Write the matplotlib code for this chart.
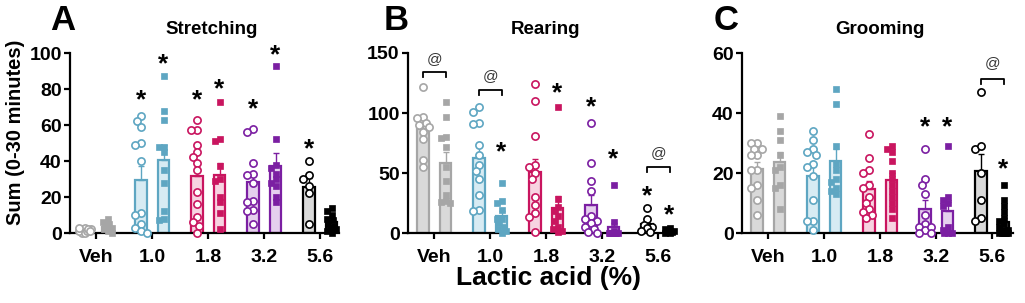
import numpy as np
import matplotlib
matplotlib.use('Agg')
import matplotlib.pyplot as plt

plt.rcParams['font.family'] = ['Liberation Sans', 'DejaVu Sans']
plt.rcParams['font.weight'] = 'bold'

groups = ['Veh', '1.0', '1.8', '3.2', '5.6']

# edge / fill colours per dose (circles bar, squares bar)
edge_c = ['#a6a6a6', '#5ea6c2', '#c9155f', '#7b1fa2', '#000000']
fill_c = ['#d9d9d9', '#d7ebf3', '#f7d3e1', '#e5d0ee', '#d9d9d9']
fill_s = ['#d9d9d9', '#d7ebf3', '#f7d3e1', '#e5d0ee', '#ffffff']

# ---- Stretching (A) ----
stretch_circ = [
    [0, 1, 2, 2, 3, 1, 0, 2, 3, 1, 2, 1],
    [65, 62, 59, 50, 49, 40, 11, 10, 5, 3, 1, 0],
    [63, 57, 57, 49, 45, 42, 39, 35, 23, 16, 9, 6, 4, 0],
    [58, 56, 39, 33, 32, 28, 18, 17, 13, 12, 5],
    [40, 32, 30, 26, 22, 5],
]
stretch_sq = [
    [0, 2, 3, 5, 8, 4, 2, 6, 3, 1],
    [87, 68, 63, 48, 48, 45, 35, 28, 12, 8, 7],
    [73, 52, 51, 37, 30, 29, 20, 17, 11, 2],
    [93, 52, 38, 36, 33, 30, 28, 26, 17, 20],
    [14, 12, 10, 8, 7, 5, 4, 3, 2, 1, 0],
]
# ---- Rearing (B) ----
rear_circ = [
    [122, 97, 96, 92, 90, 88, 84, 78, 61, 55],
    [105, 101, 92, 91, 73, 65, 57, 52, 32, 19, 18, 45],
    [124, 110, 81, 57, 55, 50, 45, 30, 23, 17, 13, 1],
    [92, 58, 43, 35, 14, 12, 10, 8, 5, 3, 1, 0],
    [21, 12, 7, 5, 4, 2, 1],
]
rear_sq = [
    [109, 97, 80, 79, 72, 55, 43, 32, 26, 25, 27],
    [42, 27, 25, 19, 12, 8, 5, 3, 2, 0, 12],
    [105, 28, 22, 18, 14, 10, 5, 3, 2, 1],
    [40, 9, 2, 0, 0, 0, 0, 0, 0, 0, 0],
    [4, 3, 2, 2, 1, 1, 0, 0],
]
# ---- Grooming (C) ----
groom_circ = [
    [30, 30, 28, 28, 26, 26, 21, 21, 16, 15, 11, 6],
    [34, 31, 28, 27, 26, 23, 22, 19, 11, 4, 4, 1],
    [33, 25, 21, 20, 16, 15, 12, 10, 8, 7, 6, 5],
    [28, 18, 16, 13, 6, 3, 2, 1, 0, 2, 0],
    [47, 28, 29, 20, 11, 5, 4],
]
groom_sq = [
    [39, 34, 31, 26, 22, 21, 16, 8, 15],
    [48, 43, 29, 23, 21, 18, 17, 15, 13, 14],
    [29, 28, 27, 24, 20, 18, 16, 14, 12, 10, 8, 5],
    [29, 12, 11, 10, 9, 2, 1, 0, 0, 0],
    [16, 11, 9, 7, 5, 4, 3, 2, 1, 1, 0, 0, 0, 0, 0, 0],
]

# significance marks: (group, side -1 circles / +1 squares, y)
stretch_stars = [(1, -1, 76), (1, 1, 96), (2, -1, 76), (2, 1, 82),
                 (3, -1, 71), (3, 1, 101), (4, -1, 49)]
rear_stars = [(1, 1, 71), (2, 1, 120), (3, -1, 108), (3, 1, 65),
              (4, -1, 34), (4, 1, 18)]
groom_stars = [(3, -1, 36.5), (3, 1, 36.5), (4, 1, 22.5)]
# '@' brackets: (group, bracket y, text y)
rear_at = [(0, 134, 145), (1, 119, 131), (4, 55, 67)]
groom_at = [(4, 51.5, 56.5)]

panels = [
    dict(circ=stretch_circ, sq=stretch_sq, ymax=100, yt=[0, 20, 40, 60, 80, 100],
         stars=stretch_stars, ats=[], xr=4.34, left=70, title='Stretching',
         tx=212, letter='A', lx=50),
    dict(circ=rear_circ, sq=rear_sq, ymax=150, yt=[0, 50, 100, 150],
         stars=rear_stars, ats=rear_at, xr=4.30, left=408, title='Rearing',
         tx=546, letter='B', lx=384),
    dict(circ=groom_circ, sq=groom_sq, ymax=60, yt=[0, 20, 40, 60],
         stars=groom_stars, ats=groom_at, xr=4.375, left=742, title='Grooming',
         tx=880, letter='C', lx=714),
]

W, H = 1025, 303
fig = plt.figure(figsize=(W / 100, H / 100), dpi=100)

ax_bot, ax_top = 233, 53
pxx = 56.0  # pixels per group unit
off = 0.2
bw = 0.21


def swarm(vals, ppy, d, wmax):
    # simple beeswarm kept inside +-wmax pixels
    vals = np.asarray(vals, float)
    order = np.argsort(-vals)
    placed = []
    xs = np.zeros(len(vals))
    cands = sorted(np.linspace(-wmax, wmax, 9), key=abs)
    for i in order:
        y = vals[i] * ppy
        best, bestd = 0.0, -1
        for x in cands:
            md = min([np.hypot(x - px, y - py) for px, py in placed] + [1e9])
            if md >= d * 0.95:
                best = x
                break
            if md > bestd + 0.5:
                best, bestd = x, md
        placed.append((best, y))
        xs[i] = best / pxx
    return xs


for p in panels:
    xl = -0.47
    width_px = (p['xr'] - xl) * pxx
    ax = fig.add_axes([p['left'] / W, 1 - ax_bot / H, width_px / W,
                       (ax_bot - ax_top) / H])
    ppy = (ax_bot - ax_top) / p['ymax']
    for g in range(5):
        for side, data, mk in [(-1, p['circ'][g], 'o'), (1, p['sq'][g], 's')]:
            v = np.array(data, float)
            m = v.mean()
            sem = v.std(ddof=1) / np.sqrt(len(v))
            x0 = g + side * off
            fc = fill_c[g] if side < 0 else fill_s[g]
            ax.bar(x0, m, width=bw, color=fc, edgecolor=edge_c[g],
                   linewidth=1.6, zorder=1)
            ax.errorbar(x0, m, yerr=[[0], [sem]], color=edge_c[g], lw=1.0,
                        capsize=2.5, capthick=1.0, zorder=2)
            if mk == 'o':
                xs = swarm(v, ppy, 7.0, 6.0)
                ax.plot(x0 + xs, v, 'o', ms=5.2, mfc='white', mec=edge_c[g],
                        mew=1.2, zorder=3, clip_on=False)
            else:
                xs = swarm(v, ppy, 5.5, 4.5)
                ax.plot(x0 + xs, v, 's', ms=3.8, mfc=edge_c[g], mec=edge_c[g],
                        mew=0.5, zorder=3, clip_on=False)
    for g, side, y in p['stars']:
        ax.annotate('*', (g + side * off, y), xytext=(0, -3),
                    textcoords='offset points', ha='center', va='center',
                    fontsize=19, fontweight='bold', annotation_clip=False)
    dh = 5.0 / ppy
    for g, yb, ytx in p['ats']:
        ax.plot([g - off, g - off, g + off, g + off], [yb - dh, yb, yb, yb - dh],
                color='black', lw=1.3, clip_on=False)
        ax.text(g, ytx, '@', ha='center', va='center', fontsize=11,
                fontweight='normal', color='#333333')
    ax.set_xlim(xl, p['xr'])
    ax.set_ylim(0, p['ymax'])
    ax.set_yticks(p['yt'])
    ax.set_xticks(range(5))
    ax.set_xticklabels(groups)
    for s in ['top', 'right']:
        ax.spines[s].set_visible(False)
    for s in ['left', 'bottom']:
        ax.spines[s].set_linewidth(1.6)
    ax.tick_params(axis='both', width=1.6, length=4.5, labelsize=14)
    ax.tick_params(axis='x', pad=7)
    ax.tick_params(axis='y', pad=1.5)
    fig.text(p['tx'] / W, 1 - 29 / H, p['title'], ha='center', va='center',
             fontsize=13.5, fontweight='bold')
    fig.text(p['lx'] / W, 1 - 20 / H, p['letter'], ha='left', va='center',
             fontsize=25, fontweight='bold')

fig.text(16 / W, 1 - 132 / H, 'Sum (0-30 minutes)', rotation=90, ha='center',
         va='center', fontsize=14.5, fontweight='bold')
fig.text(548 / W, 1 - 278 / H, 'Lactic acid (%)', ha='center', va='center',
         fontsize=19, fontweight='bold')

fig.savefig('out.png', dpi=100)
